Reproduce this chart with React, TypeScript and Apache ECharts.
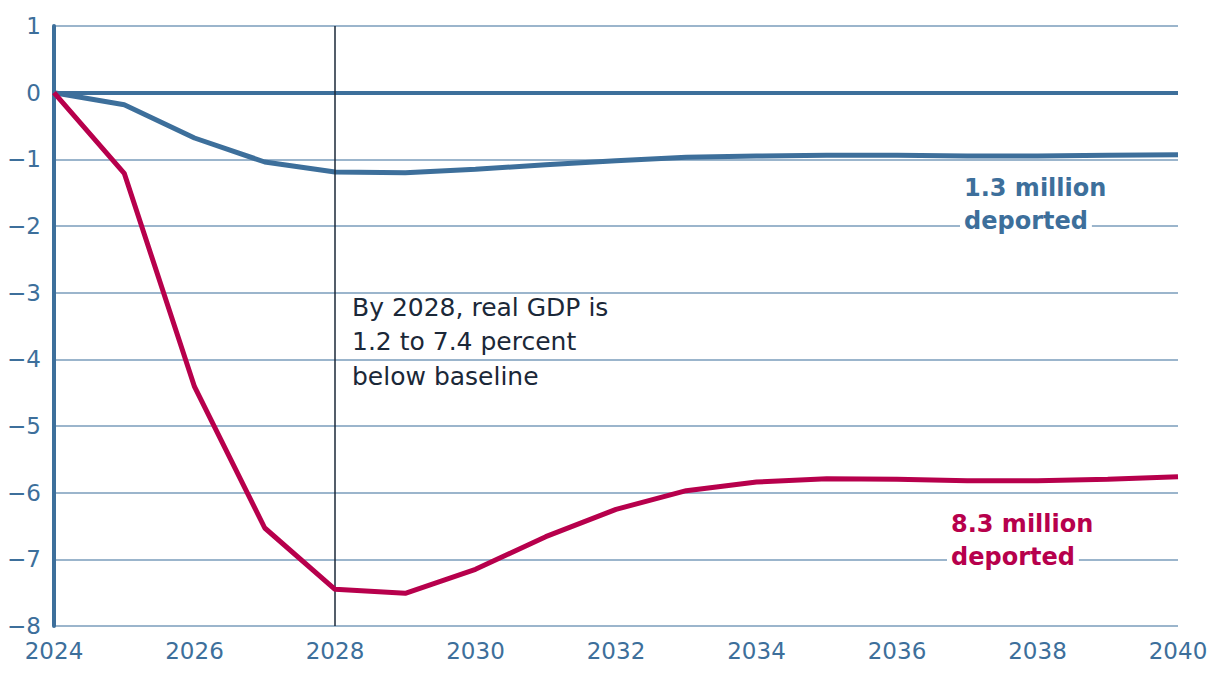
import React, { useEffect, useRef } from "react";
import * as echarts from "echarts";

const years = [2024, 2025, 2026, 2027, 2028, 2029, 2030, 2031, 2032, 2033, 2034, 2035, 2036, 2037, 2038, 2039, 2040];
const lowScenario = [0, -0.18, -0.68, -1.04, -1.19, -1.2, -1.15, -1.08, -1.02, -0.97, -0.95, -0.94, -0.94, -0.95, -0.95, -0.94, -0.93];
const highScenario = [0, -1.21, -4.41, -6.53, -7.45, -7.51, -7.15, -6.66, -6.25, -5.97, -5.84, -5.79, -5.8, -5.82, -5.82, -5.8, -5.76];
const lowLabel = ["1.3 million", "deported"];
const highLabel = ["8.3 million", "deported"];
const annotation = ["By 2028, real GDP is", "1.2 to 7.4 percent", "below baseline"];
const markYear = 2028;

const BLUE = "#3d6f9b";
const RED = "#b7004c";
const GRID = "#9bb5cc";
const DARK = "#1b2838";
const FONT = "'DejaVu Sans', sans-serif";

function seriesLabel(lines: string[], left: number, top: number, color: string) {
  return [
    {
      type: "text",
      left,
      top,
      z: 10,
      style: { text: lines[0], fill: color, font: `bold 24px ${FONT}` },
    },
    {
      type: "text",
      left: left - 4,
      top: top + 33,
      z: 10,
      style: {
        text: lines[1],
        fill: color,
        font: `bold 24px ${FONT}`,
        backgroundColor: "#fff",
        padding: [0, 4, 0, 4],
      },
    },
  ];
}

export default function App() {
  const ref = useRef<HTMLDivElement>(null);
  useEffect(() => {
    const chart = echarts.init(ref.current!, null, { renderer: "svg" });
    chart.setOption({
      animation: false,
      grid: { left: 54, right: 42, top: 26, bottom: 52, containLabel: false },
      xAxis: {
        type: "value",
        min: 2024,
        max: 2040,
        interval: 2,
        axisLine: { show: false },
        axisTick: { show: false },
        splitLine: { show: false },
        axisLabel: {
          color: BLUE,
          fontFamily: FONT,
          fontSize: 23,
          margin: 13,
          formatter: (v: number) => String(v),
        },
      },
      yAxis: {
        type: "value",
        min: -8,
        max: 1,
        interval: 1,
        axisLine: { show: true, lineStyle: { color: BLUE, width: 4 } },
        axisTick: { show: false },
        splitLine: { show: true, lineStyle: { color: GRID, width: 2 } },
        axisLabel: {
          color: BLUE,
          fontFamily: FONT,
          fontSize: 23,
          margin: 13,
          formatter: (v: number) => (v < 0 ? "\u2212" + Math.abs(v) : String(v)),
        },
      },
      series: [
        {
          type: "line",
          data: years.map((y, i) => [y, lowScenario[i]]),
          symbol: "none",
          lineStyle: { color: BLUE, width: 5 },
          z: 4,
          markLine: {
            silent: true,
            symbol: "none",
            label: { show: false },
            data: [
              { yAxis: 0, lineStyle: { color: BLUE, width: 4, type: "solid" } },
              { xAxis: markYear, lineStyle: { color: DARK, width: 1.5, type: "solid" } },
            ],
          },
        },
        {
          type: "line",
          data: years.map((y, i) => [y, highScenario[i]]),
          symbol: "none",
          lineStyle: { color: RED, width: 5 },
          z: 5,
        },
      ],
      graphic: [
        {
          type: "text",
          left: 352,
          top: 290,
          style: {
            text: annotation.join("\n"),
            fill: DARK,
            font: `25px ${FONT}`,
            lineHeight: 34.5,
          },
        },
        ...seriesLabel(lowLabel, 964, 176, BLUE),
        ...seriesLabel(highLabel, 951, 512, RED),
      ],
    });
    return () => chart.dispose();
  }, []);
  return (
    <div
      ref={ref}
      style={{ position: "absolute", left: 0, top: 0, width: 1220, height: 678, background: "#fff" }}
    />
  );
}
